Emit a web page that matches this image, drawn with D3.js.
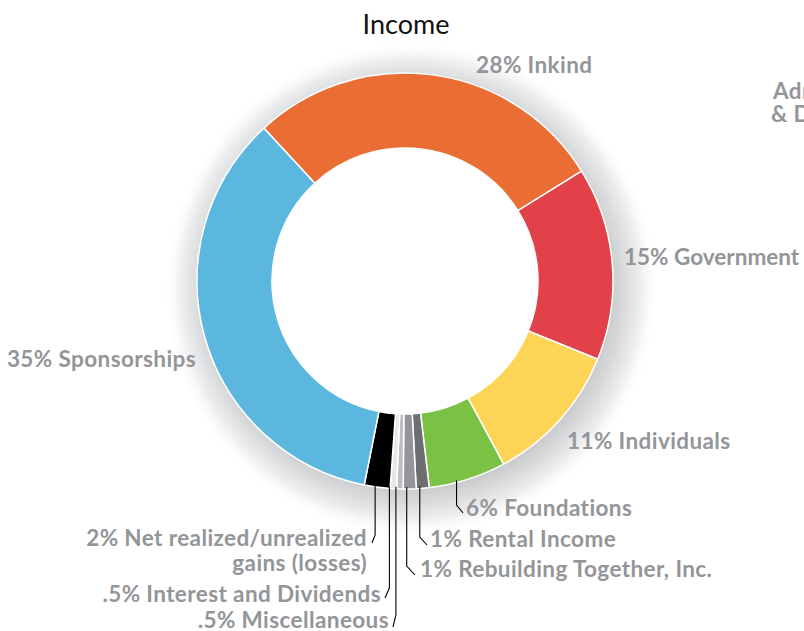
<!DOCTYPE html>
<html><head><meta charset="utf-8">
<script src="https://cdn.jsdelivr.net/npm/d3@7"></script>
<style>
html,body{margin:0;padding:0;background:#fff;overflow:hidden}
svg{display:block}
</style></head>
<body>
<svg id="chart" width="804" height="631"></svg>
<script>
// ---- data ----
const categories = ["Inkind","Government","Individuals","Foundations","Rental Income","Rebuilding Together, Inc.","Miscellaneous","Interest and Dividends","Net realized/unrealized gains (losses)","Sponsorships"];
const values = [28, 15, 11, 6, 1, 1, 0.5, 0.5, 2, 35];
const labelTexts = [["28% Inkind"],["15% Government"],["11% Individuals"],["6% Foundations"],["1% Rental Income"],["1% Rebuilding Together, Inc."],[".5% Miscellaneous"],[".5% Interest and Dividends"],["2% Net realized/unrealized","gains (losses)"],["35% Sponsorships"]];
const colors = ["#ea6e33","#e3414a","#fed457","#7bc143","#6d6e71","#939598","#bcbec0","#e6e7e8","#000000","#5cb7de"];
const title = "Income";
const sideTexts = ["Administrative","& Development"];

// ---- layout ----
const W = 804, H = 631;
const cx = 405, cy = 281, R = 208, r0 = 133;
const startDeg = -42.7;
const layout = {
  "Inkind":[476,64,"start",null],
  "Government":[624,256,"start",null,0],
  "Individuals":[567,440,"start",null],
  "Foundations":[466,507,"start",{dx:-11, bend:505, ex:463, ey:513}],
  "Rental Income":[430,538,"start",{dx:-3, bend:537, ex:427, ey:545}],
  "Rebuilding Together, Inc.":[420,568,"start",{dx:-3, bend:566, ex:415, ey:575}],
  "Miscellaneous":[389,619,"end",{dx:-4, bend:615, ex:393, ey:627}],
  "Interest and Dividends":[381,593,"end",{dx:-4, bend:588, ex:385, ey:598}],
  "Net realized/unrealized gains (losses)":[367,537,"end",{dx:-2, bend:535, ex:372, ey:543}],
  "Sponsorships":[196,358,"end",null]
};

const svg = d3.select("#chart");
const defs = svg.append("defs");
const hx = cx+6, hy = cy+8, hr = 248;
const grad = defs.append("radialGradient").attr("id","halo")
  .attr("gradientUnits","userSpaceOnUse").attr("cx",hx).attr("cy",hy).attr("r",hr);
grad.append("stop").attr("offset",0.80).attr("stop-color","#c9cacc");
grad.append("stop").attr("offset",0.86).attr("stop-color","#d9dadc");
grad.append("stop").attr("offset",0.93).attr("stop-color","#eeeff0");
grad.append("stop").attr("offset",1).attr("stop-color","#ffffff").attr("stop-opacity",0);

svg.append("circle").attr("cx",hx).attr("cy",hy).attr("r",hr).attr("fill","url(#halo)");
svg.append("circle").attr("cx",cx).attr("cy",cy).attr("r",r0).attr("fill","#fff");

const data = categories.map((c,i)=>({cat:c, value:values[i], color:colors[i], lines:labelTexts[i]}));
const a0 = startDeg*Math.PI/180;
const pie = d3.pie().sort(null).value(d=>d.value).startAngle(a0).endAngle(a0+2*Math.PI);
const arcs = pie(data);
const arc = d3.arc().innerRadius(r0).outerRadius(R);

const g = svg.append("g").attr("transform",`translate(${cx},${cy})`);
g.selectAll("path.slice").data(arcs).join("path")
  .attr("class","slice")
  .attr("d",arc)
  .attr("fill",d=>d.data.color)
  .attr("stroke","#fff").attr("stroke-width",1.5).attr("stroke-linejoin","round");

// leader lines
arcs.forEach(d=>{
  const L = layout[d.data.cat];
  if(!L[3]) return;
  const mid = (d.startAngle+d.endAngle)/2;
  const x = cx + R*Math.sin(mid) + L[3].dx;
  const y1 = cy + Math.sqrt(R*R - (x-cx)*(x-cx)) - 2;
  svg.append("path")
    .attr("d",`M${x},${y1}L${x},${L[3].bend}L${L[3].ex},${L[3].ey}`)
    .attr("fill","none").attr("stroke","#000").attr("stroke-width",1.1);
});

// labels
const font = "Lato, 'Open Sans', sans-serif";
arcs.forEach(d=>{
  const L = layout[d.data.cat];
  const t = svg.append("text")
    .attr("x",L[0]).attr("y",L[1])
    .attr("text-anchor",L[2])
    .attr("dominant-baseline","central")
    .attr("font-family",font).attr("font-weight",700).attr("font-size",22.5)
    .attr("letter-spacing",L[4]!==undefined?L[4]:0.4)
    .attr("fill","#939598");
  d.data.lines.forEach((ln,i)=>{
    t.append("tspan").attr("x",L[0]).attr("dy", i===0?0:25).text(ln);
  });
});

svg.append("text").attr("x",cx+1).attr("y",23).attr("text-anchor","middle")
  .attr("dominant-baseline","central")
  .attr("font-family",font).attr("font-size",27).attr("fill","#111").text(title);

svg.append("text").attr("x",773).attr("y",90).attr("dominant-baseline","central")
  .attr("font-family",font).attr("font-weight",700).attr("font-size",22.5).attr("letter-spacing",0.4).attr("fill","#939598")
  .selectAll("tspan").data(sideTexts).join("tspan")
  .attr("x",(d,i)=>i===0?773:771).attr("dy",(d,i)=>i===0?0:23).text(d=>d);
</script>
</body></html>
